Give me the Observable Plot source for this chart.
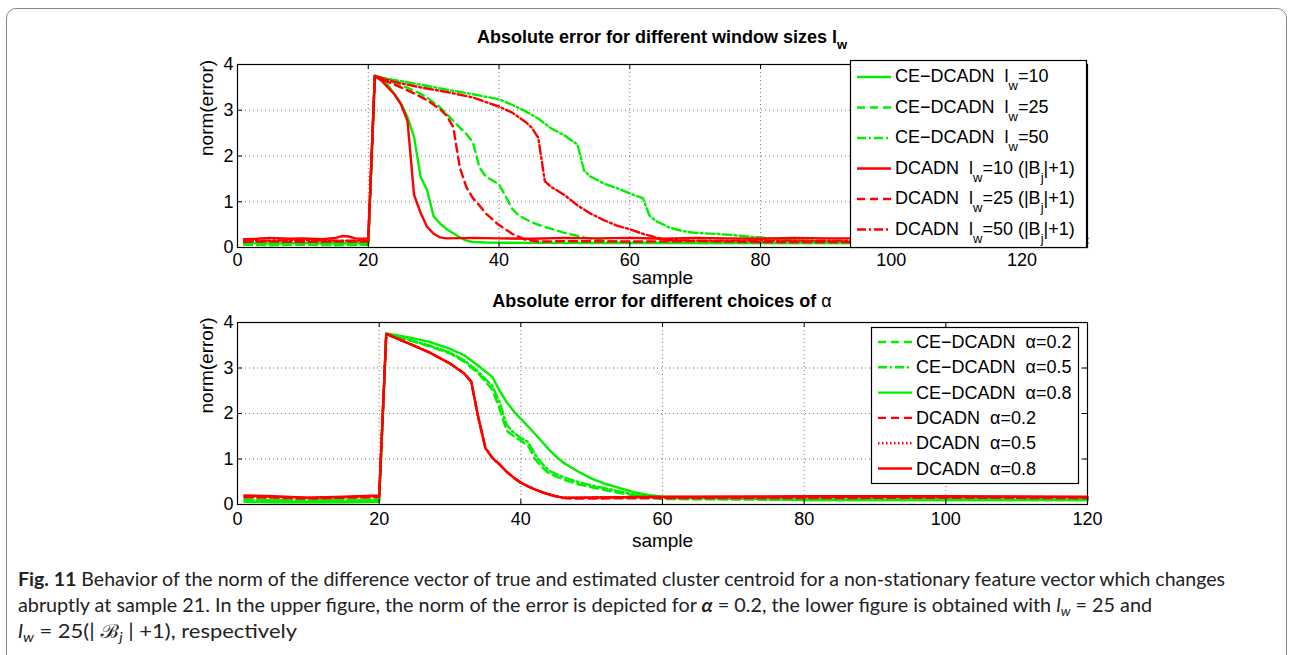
<!DOCTYPE html>
<html>
<head>
<meta charset="utf-8">
<script src="https://cdn.jsdelivr.net/npm/d3@7"></script>
<script src="https://cdn.jsdelivr.net/npm/@observablehq/plot@0.6"></script>
<style>
  html, body { margin: 0; padding: 0; background: #fff; }
  #wrap { position: relative; width: 1290px; height: 655px; overflow: hidden; background: #fff; }
  #border { position: absolute; left: 6px; top: 8px; width: 1281px; height: 720px; box-sizing: border-box;
            border: 1.5px solid #8a8a8a; border-radius: 10px; }
  .abs { position: absolute; left: 0; }
</style>
</head>
<body>
<div id="wrap">
  <div id="border"></div>
  <div id="p1" class="abs" style="top:0px"></div>
  <div id="p2" class="abs" style="top:300px"></div>
  <svg id="ov" class="abs" style="top:0px;pointer-events:none" width="1290" height="655"></svg>
</div>
<script>
// ---------------- data ----------------
const xTicksTop = [0, 20, 40, 60, 80, 100, 120];
const xTicksBottom = [0, 20, 40, 60, 80, 100, 120];
const yTicks = [0, 1, 2, 3, 4];

// Upper figure: window sizes l_w
const ceW10x = [1, 5, 10, 15, 20, 21, 22, 23, 24, 25, 26, 27, 28, 29, 30, 31, 32, 33, 34, 35, 36, 38, 45, 60, 80, 100, 130];
const ceW10y = [0.10, 0.09, 0.10, 0.09, 0.10, 3.75, 3.68, 3.55, 3.35, 3.15, 2.85, 2.42, 1.55, 1.25, 0.68, 0.52, 0.40, 0.31, 0.22, 0.15, 0.12, 0.11, 0.10, 0.10, 0.10, 0.10, 0.10];

const ceW25x = [1, 5, 10, 15, 20, 21, 23, 25, 27, 29, 31, 33, 34, 35, 36, 37, 38, 40, 41, 42, 43, 45, 47, 50, 53, 56, 60, 70, 80, 100, 130];
const ceW25y = [0.06, 0.05, 0.06, 0.05, 0.06, 3.75, 3.65, 3.55, 3.43, 3.28, 3.06, 2.77, 2.62, 2.48, 2.30, 1.75, 1.55, 1.38, 1.12, 0.85, 0.70, 0.55, 0.45, 0.32, 0.22, 0.15, 0.11, 0.10, 0.10, 0.10, 0.10];

const ceW50x = [1, 5, 10, 15, 20, 21, 24, 28, 32, 36, 40, 42, 44, 46, 48, 50, 52, 53, 54, 56, 58, 60, 62, 63, 64, 66, 68, 70, 74, 80, 85, 90, 100, 130];
const ceW50y = [0.10, 0.09, 0.10, 0.09, 0.10, 3.75, 3.66, 3.56, 3.45, 3.35, 3.24, 3.12, 2.98, 2.82, 2.60, 2.45, 2.25, 1.68, 1.55, 1.40, 1.30, 1.18, 1.08, 0.70, 0.58, 0.44, 0.36, 0.32, 0.29, 0.22, 0.16, 0.13, 0.11, 0.10];

const dcW10x = [1, 3, 5, 8, 10, 13, 15, 16, 17, 18, 19, 20, 21, 22, 23, 24, 25, 26, 27, 28, 29, 30, 31, 32, 36, 40, 45, 50, 55, 60, 65, 70, 75, 80, 85, 90, 100, 130];
const dcW10y = [0.18, 0.19, 0.21, 0.19, 0.20, 0.18, 0.21, 0.25, 0.24, 0.20, 0.19, 0.20, 3.75, 3.65, 3.50, 3.35, 3.13, 2.77, 1.15, 0.76, 0.45, 0.30, 0.22, 0.20, 0.21, 0.20, 0.19, 0.21, 0.20, 0.21, 0.19, 0.21, 0.20, 0.19, 0.21, 0.20, 0.20, 0.20];

const dcW25x = [1, 5, 10, 15, 20, 21, 23, 25, 27, 29, 31, 32, 33, 34, 35, 36, 37, 38, 40, 42, 44, 46, 50, 60, 70, 80, 100, 130];
const dcW25y = [0.12, 0.13, 0.12, 0.13, 0.13, 3.75, 3.62, 3.50, 3.37, 3.22, 3.02, 2.88, 2.63, 1.75, 1.32, 1.08, 0.92, 0.74, 0.49, 0.30, 0.17, 0.13, 0.14, 0.13, 0.14, 0.12, 0.12, 0.12];

const dcW50x = [1, 5, 10, 15, 20, 21, 24, 28, 32, 36, 40, 42, 44, 45, 46, 47, 48, 50, 52, 54, 56, 58, 60, 62, 64, 66, 70, 80, 100, 130];
const dcW50y = [0.15, 0.15, 0.16, 0.15, 0.15, 3.75, 3.62, 3.50, 3.40, 3.28, 3.08, 2.95, 2.75, 2.62, 2.40, 1.45, 1.32, 1.15, 0.92, 0.74, 0.60, 0.48, 0.40, 0.30, 0.22, 0.16, 0.15, 0.15, 0.15, 0.15];

// Lower figure: choices of alpha
const ceA2x = [1, 5, 10, 15, 20, 21, 24, 27, 30, 32, 34, 35, 36, 37, 38, 39, 40, 41, 42, 43, 44, 46, 48, 50, 53, 56, 60, 80, 100, 120];
const ceA2y = [0.10, 0.09, 0.08, 0.09, 0.10, 3.75, 3.62, 3.48, 3.32, 3.14, 2.88, 2.70, 2.52, 2.10, 1.62, 1.50, 1.40, 1.30, 1.00, 0.82, 0.68, 0.55, 0.45, 0.38, 0.28, 0.20, 0.12, 0.10, 0.10, 0.10];

const ceA5x = [1, 5, 10, 15, 20, 21, 24, 27, 30, 32, 34, 35, 36, 37, 38, 39, 40, 41, 42, 43, 44, 46, 48, 50, 53, 56, 60, 80, 100, 120];
const ceA5y = [0.11, 0.10, 0.09, 0.10, 0.11, 3.75, 3.63, 3.50, 3.34, 3.17, 2.92, 2.76, 2.60, 2.25, 1.75, 1.58, 1.46, 1.38, 1.10, 0.90, 0.74, 0.60, 0.50, 0.42, 0.32, 0.22, 0.14, 0.12, 0.12, 0.12];

const ceA8x = [1, 5, 10, 15, 20, 21, 24, 27, 30, 32, 34, 36, 37, 38, 39, 40, 41, 42, 43, 44, 45, 46, 48, 50, 52, 54, 56, 58, 60, 80, 100, 120];
const ceA8y = [0.06, 0.05, 0.05, 0.05, 0.06, 3.76, 3.68, 3.58, 3.42, 3.28, 3.05, 2.80, 2.50, 2.25, 2.05, 1.88, 1.72, 1.55, 1.38, 1.20, 1.05, 0.92, 0.73, 0.57, 0.45, 0.36, 0.27, 0.21, 0.17, 0.10, 0.10, 0.10];

const dcA2x = [1, 5, 10, 15, 20, 21, 24, 27, 30, 32, 33, 34, 35, 36, 37, 38, 39, 40, 41, 42, 43, 44, 45, 46, 47, 60, 80, 100, 120];
const dcA2y = [0.16, 0.15, 0.13, 0.15, 0.16, 3.75, 3.55, 3.35, 3.10, 2.88, 2.70, 1.90, 1.25, 1.02, 0.88, 0.72, 0.59, 0.48, 0.40, 0.33, 0.27, 0.22, 0.18, 0.14, 0.13, 0.14, 0.14, 0.15, 0.14];

const dcA5x = [1, 5, 10, 15, 20, 21, 24, 27, 30, 32, 33, 34, 35, 36, 37, 38, 39, 40, 41, 42, 43, 44, 45, 46, 47, 60, 80, 100, 120];
const dcA5y = [0.18, 0.17, 0.15, 0.16, 0.18, 3.75, 3.55, 3.35, 3.10, 2.88, 2.70, 1.90, 1.24, 1.02, 0.88, 0.72, 0.59, 0.48, 0.40, 0.33, 0.27, 0.22, 0.18, 0.15, 0.15, 0.16, 0.17, 0.17, 0.16];

const dcA8x = [1, 5, 10, 15, 20, 21, 24, 27, 30, 32, 33, 34, 35, 36, 37, 38, 39, 40, 41, 42, 43, 44, 45, 46, 47, 60, 80, 100, 120];
const dcA8y = [0.20, 0.18, 0.15, 0.17, 0.20, 3.75, 3.55, 3.35, 3.10, 2.88, 2.70, 1.92, 1.24, 1.02, 0.88, 0.72, 0.59, 0.48, 0.40, 0.33, 0.27, 0.22, 0.18, 0.15, 0.15, 0.17, 0.18, 0.18, 0.17];

// ---------------- styles ----------------
const GREEN = "#00f000", RED = "#ff0000";
const SOLID = null, DASH = "8,5", DASHDOT = "9,3,2,3", DOT = "1.5,2.5";

const topSeries = [
  {x: ceW10x, y: ceW10y, color: GREEN, dash: SOLID},
  {x: ceW25x, y: ceW25y, color: GREEN, dash: DASH},
  {x: ceW50x, y: ceW50y, color: GREEN, dash: DASHDOT},
  {x: dcW10x, y: dcW10y, color: RED, dash: SOLID},
  {x: dcW25x, y: dcW25y, color: RED, dash: DASH},
  {x: dcW50x, y: dcW50y, color: RED, dash: DASHDOT}
];
const bottomSeries = [
  {x: ceA2x, y: ceA2y, color: GREEN, dash: DASH},
  {x: ceA5x, y: ceA5y, color: GREEN, dash: DASHDOT},
  {x: ceA8x, y: ceA8y, color: GREEN, dash: SOLID},
  {x: dcA2x, y: dcA2y, color: RED, dash: DASH},
  {x: dcA5x, y: dcA5y, color: RED, dash: DOT},
  {x: dcA8x, y: dcA8y, color: RED, dash: SOLID}
];

const FONT = "'Liberation Sans', Arial, Helvetica, sans-serif";

function makePlot({series, xmax, xTicks, height, marginTop, marginBottom, tickPad, labelDy}) {
  const left = 237, right = 203, width = 1290;
  const pxPerX = (width - left - right) / xmax;
  const pxPerY = (height - marginTop - marginBottom) / 4;
  const tx = 5 / pxPerX, ty = 5 / pxPerY;
  const gridX = xTicks.filter(t => t > 0 && t < xmax);
  const gridY = yTicks.filter(t => t > 0 && t < 4);
  const marks = [
    Plot.ruleX(gridX, {x: d => d, stroke: "#555", strokeWidth: 0.8, strokeDasharray: "1,3"}),
    Plot.ruleY(gridY, {y: d => d, stroke: "#555", strokeWidth: 0.8, strokeDasharray: "1,3"})
  ];
  for (const s of series) {
    const pts = s.x.map((v, i) => ({x: v, y: s.y[i]}));
    marks.push(Plot.line(pts, {x: "x", y: "y", stroke: s.color, strokeWidth: 2.4, strokeDasharray: s.dash}));
  }
  marks.push(
    Plot.frame({stroke: "#000", strokeWidth: 1.2}),
    // inward ticks (MATLAB style) on all four sides
    Plot.ruleX(xTicks, {x: d => d, y1: 0, y2: ty, stroke: "#000"}),
    Plot.ruleX(xTicks, {x: d => d, y1: 4 - ty, y2: 4, stroke: "#000"}),
    Plot.ruleY(yTicks, {y: d => d, x1: 0, x2: tx, stroke: "#000"}),
    Plot.ruleY(yTicks, {y: d => d, x1: xmax - tx, x2: xmax, stroke: "#000"}),
    Plot.axisX({ticks: xTicks, tickFormat: d => String(d), tickSize: 0, tickPadding: tickPad, label: null, fontSize: 18}),
    Plot.axisY({ticks: yTicks, tickFormat: d => String(d), tickSize: 0, tickPadding: 4, label: null, fontSize: 18}),
    Plot.text(["sample"], {text: d => d, frameAnchor: "bottom", dy: labelDy, fontSize: 19}),
    Plot.text(["norm(error)"], {text: d => d, frameAnchor: "left", dx: -31, rotate: -90, fontSize: 19})
  );
  return Plot.plot({
    width, height, marginLeft: left, marginRight: right, marginTop, marginBottom,
    x: {domain: [0, xmax]},
    y: {domain: [0, 4]},
    style: {fontFamily: FONT, fontSize: "18px", color: "#000", background: "transparent", overflow: "visible"},
    marks
  });
}

document.getElementById("p1").appendChild(makePlot({
  series: topSeries, xmax: 130, xTicks: xTicksTop, height: 300, marginTop: 64, marginBottom: 53, tickPad: 6, labelDy: 36
}));
document.getElementById("p2").appendChild(makePlot({
  series: bottomSeries, xmax: 120, xTicks: xTicksBottom, height: 250, marginTop: 22, marginBottom: 46, tickPad: 8, labelDy: 42
}));

// ---------------- titles, legends, caption (overlay) ----------------
const ov = d3.select("#ov");

function addTitle(y, parts) {
  const t = ov.append("text").attr("x", 662).attr("y", y).attr("text-anchor", "middle")
    .attr("font-family", FONT).attr("font-size", 18).attr("font-weight", "bold").attr("fill", "#000");
  for (const p of parts) {
    const ts = t.append("tspan").text(p.t);
    if (p.dy) ts.attr("dy", p.dy);
    if (p.fs) ts.attr("font-size", p.fs);
    if (p.fw) ts.attr("font-weight", p.fw);
  }
}
addTitle(43, [{t: "Absolute error for different window sizes l"}, {t: "w", dy: 6, fs: 13}]);
addTitle(307, [{t: "Absolute error for different choices of "}, {t: "α", fw: "normal"}]);

const legendTop = [
  [{t: "CE−DCADN\u00a0\u00a0l"}, {t: "w", sub: true}, {t: "=10"}],
  [{t: "CE−DCADN\u00a0\u00a0l"}, {t: "w", sub: true}, {t: "=25"}],
  [{t: "CE−DCADN\u00a0\u00a0l"}, {t: "w", sub: true}, {t: "=50"}],
  [{t: "DCADN\u00a0\u00a0l"}, {t: "w", sub: true}, {t: "=10 (|B"}, {t: "j", sub: true}, {t: "|+1)"}],
  [{t: "DCADN\u00a0\u00a0l"}, {t: "w", sub: true}, {t: "=25 (|B"}, {t: "j", sub: true}, {t: "|+1)"}],
  [{t: "DCADN\u00a0\u00a0l"}, {t: "w", sub: true}, {t: "=50 (|B"}, {t: "j", sub: true}, {t: "|+1)"}]
];
const legendBottom = [
  [{t: "CE−DCADN\u00a0\u00a0α=0.2"}],
  [{t: "CE−DCADN\u00a0\u00a0α=0.5"}],
  [{t: "CE−DCADN\u00a0\u00a0α=0.8"}],
  [{t: "DCADN\u00a0\u00a0α=0.2"}],
  [{t: "DCADN\u00a0\u00a0α=0.5"}],
  [{t: "DCADN\u00a0\u00a0α=0.8"}]
];

function addLegend({x, y, w, h, rows, series, y0, step, lx0, lx1, tx, base}) {
  ov.append("rect").attr("x", x + 0.5).attr("y", y + 0.5).attr("width", w).attr("height", h)
    .attr("fill", "#fff").attr("stroke", "#000").attr("stroke-width", 1.2);
  rows.forEach((parts, i) => {
    const ly = y0 + i * step;
    const s = series[i];
    ov.append("line").attr("x1", lx0).attr("x2", lx1).attr("y1", ly).attr("y2", ly)
      .attr("stroke", s.color).attr("stroke-width", 2.4).attr("stroke-dasharray", s.dash);
    const t = ov.append("text").attr("x", tx).attr("y", ly + base)
      .attr("font-family", FONT).attr("font-size", 18).attr("fill", "#000");
    let down = false;
    for (const p of parts) {
      const ts = t.append("tspan").text(p.t);
      if (p.sub && !down) { ts.attr("dy", 8).attr("font-size", 13); down = true; }
      else if (!p.sub && down) { ts.attr("dy", -8); down = false; }
    }
  });
}
addLegend({x: 850, y: 60, w: 236, h: 187, rows: legendTop, series: topSeries,
  y0: 77, step: 30.5, lx0: 857, lx1: 891, tx: 895, base: 5});
addLegend({x: 871, y: 327, w: 207, h: 156, rows: legendBottom, series: bottomSeries,
  y0: 342, step: 25.3, lx0: 878, lx1: 912, tx: 916, base: 6});

// caption
const CAP = "Lato, 'Open Sans', 'Noto Sans', sans-serif";
function capLine(y, len, parts) {
  const t = ov.append("text").attr("x", 18).attr("y", y)
    .attr("font-family", CAP).attr("font-size", 19).attr("fill", "#222")
    .attr("textLength", len).attr("lengthAdjust", "spacingAndGlyphs");
  for (const p of parts) {
    const ts = t.append("tspan").text(p.t);
    if (p.b) ts.attr("font-weight", "bold");
    if (p.i) ts.attr("font-style", "italic");
    if (p.dy) ts.attr("dy", p.dy);
    if (p.fs) ts.attr("font-size", p.fs);
  }
}
capLine(586, 1207, [
  {t: "Fig. 11", b: true},
  {t: " Behavior of the norm of the difference vector of true and estimated cluster centroid for a non-stationary feature vector which changes"}
]);
capLine(612, 1134, [
  {t: "abruptly at sample 21. In the upper figure, the norm of the error is depicted for "},
  {t: "α", b: true, i: true},
  {t: " = 0.2, the lower figure is obtained with "},
  {t: "l", i: true},
  {t: "w", i: true, dy: 4, fs: 13},
  {t: " = 25 and", dy: -4}
]);
capLine(638, 279, [
  {t: "l", i: true},
  {t: "w", i: true, dy: 4, fs: 13},
  {t: " = 25(| ", dy: -4},
  {t: "ℬ", i: true},
  {t: "j", i: true, dy: 4, fs: 13},
  {t: " | +1), respectively", dy: -4}
]);
</script>
</body>
</html>
